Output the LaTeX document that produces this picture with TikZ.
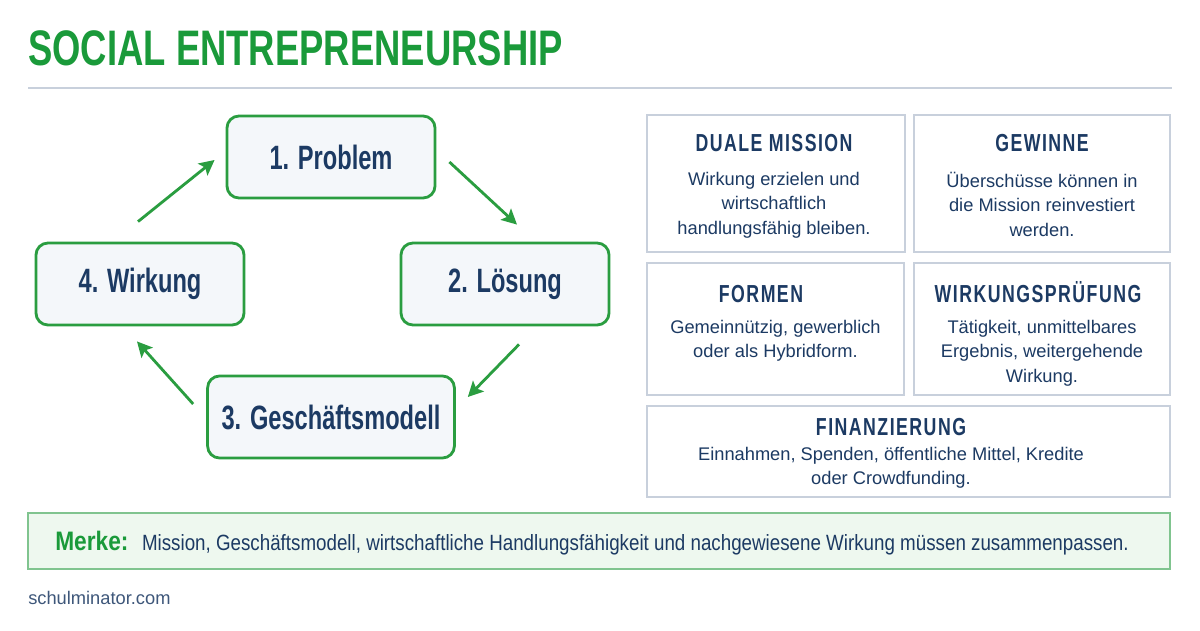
\documentclass[tikz,border=0pt]{standalone}
\usepackage{fontspec}
\setmainfont{Liberation Sans}
\newfontfamily\condfont[FakeStretch=0.73]{Liberation Sans}
\newfontfamily\boxfont[FakeStretch=0.70]{Liberation Sans}
\newfontfamily\capsfont[FakeStretch=0.72,LetterSpace=6]{Liberation Sans}
\newfontfamily\narrowfont[FakeStretch=0.85]{Liberation Sans}
\usetikzlibrary{arrows.meta,positioning,calc}
\definecolor{green}{HTML}{1A9A3A}
\definecolor{boxgreen}{HTML}{2A9D40}
\definecolor{navy}{HTML}{1C3A63}
\definecolor{boxfill}{HTML}{F4F7FA}
\definecolor{panelline}{HTML}{C8D0DC}
\definecolor{merkefill}{HTML}{EEF8EF}
\definecolor{merkeline}{HTML}{80C48F}

\tikzset{
  panel/.style={draw=panelline,line width=1.1pt,fill=white},
  ptitle/.style={inner sep=0,text=navy,font=\capsfont\bfseries\fontsize{17.5}{20}\selectfont},
  ptext/.style={inner sep=0,align=center,text=navy,font=\fontsize{13}{17.5}\selectfont}
}

\begin{document}
\begin{tikzpicture}[x=0.025cm,y=-0.025cm,>={Stealth[length=3.8mm,width=3.8mm,inset=0.8mm]}]
\useasboundingbox[fill=white] (0,0) rectangle (1200,630);

% heading
\node[anchor=base west,inner sep=0,text=green,font=\condfont\bfseries\fontsize{35.5}{40}\selectfont] (title) at (28,66) {SOCIAL ENTREPRENEURSHIP};
\draw[panelline,line width=1pt] (28,88) -- (1172,88);

% cycle
\foreach \x/\y/\num/\title in {
331/157/1/Problem,
505/284/2/Lösung,
331/417/3/Geschäftsmodell,
140/284/4/Wirkung}
{
  \node[rounded corners=0.3cm,fill=boxfill,draw=boxgreen,line width=2pt,minimum width=5.2cm,minimum height=2.05cm,inner xsep=0.35cm,text=navy,font=\boxfont\bfseries\fontsize{24}{28}\selectfont] (n\num) at (\x,\y) {\num. \title};
}
\draw[->,boxgreen,line width=2pt] ($(n4.north)+(-2,-20)$) -- ($(n1.west)+(-11,3)$);
\draw[->,boxgreen,line width=2pt] ($(n1.east)+(13,5)$) -- ($(n2.north)+(12,-17)$);
\draw[->,boxgreen,line width=2pt] ($(n2.south)+(14,18)$) -- ($(n3.east)+(12,-20)$);
\draw[->,boxgreen,line width=2pt] ($(n3.west)+(-13,-13)$) -- ($(n4.south)+(-3,15)$);

% panels
\node[panel,minimum width=6.45cm,minimum height=3.425cm] (dm) at (776,183.5) {};
\node[ptitle,anchor=base] (dmT) at (774,152) {DUALE MISSION};
\node[ptext,below=4.8mm of dmT] (dmB) {Wirkung erzielen und\\wirtschaftlich\\handlungsfähig bleiben.};

\node[panel,minimum width=6.4cm,minimum height=3.425cm] (gw) at (1042,183.5) {};
\node[ptitle,anchor=base] (gwT) at (1042,152) {GEWINNE};
\node[ptext,below=4.8mm of gwT] (gwB) {Überschüsse können in\\die Mission reinvestiert\\werden.};

\node[panel,minimum width=6.425cm,minimum height=3.3cm] (fo) at (775.5,329) {};
\node[ptitle,anchor=base] (foT) at (761,302) {FORMEN};
\node[ptext,below=4.3mm of foT.south -| fo.south] (foB) {Gemeinnützig, gewerblich\\oder als Hybridform.};

\node[panel,minimum width=6.4cm,minimum height=3.3cm] (wp) at (1042,329) {};
\node[ptitle,anchor=base] (wpT) at (1038,302) {WIRKUNGSPRÜFUNG};
\node[ptext,below=4.3mm of wpT.south -| wp.south] (wpB) {Tätigkeit, unmittelbares\\Ergebnis, weitergehende\\Wirkung.};

\node[panel,minimum width=13.075cm,minimum height=2.275cm] (fi) at (908.5,451.5) {};
\node[ptitle,anchor=base] (fiT) at (891,435) {FINANZIERUNG};
\node[ptext,below=2.8mm of fiT] (fiB) {Einnahmen, Spenden, öffentliche Mittel, Kredite\\oder Crowdfunding.};

% note
\node[fill=merkefill,draw=merkeline,line width=1.1pt,minimum width=28.55cm,minimum height=1.4cm] (merke) at (599,541) {};
\node[anchor=base west,inner sep=0,text=green,font=\narrowfont\bfseries\fontsize{19}{22}\selectfont] (mk) at (55,550) {Merke:};
\node[anchor=base west,inner sep=0,text=navy,font=\narrowfont\fontsize{15.7}{19}\selectfont] (mkT) at ($(mk.base east)+(13,0)$) {Mission, Geschäftsmodell, wirtschaftliche Handlungsfähigkeit und nachgewiesene Wirkung müssen zusammenpassen.};

\node[anchor=base west,inner sep=0,text=navy!85,font=\fontsize{13}{16}\selectfont] (web) at (28,604) {schulminator.com};
\end{tikzpicture}
\end{document}
